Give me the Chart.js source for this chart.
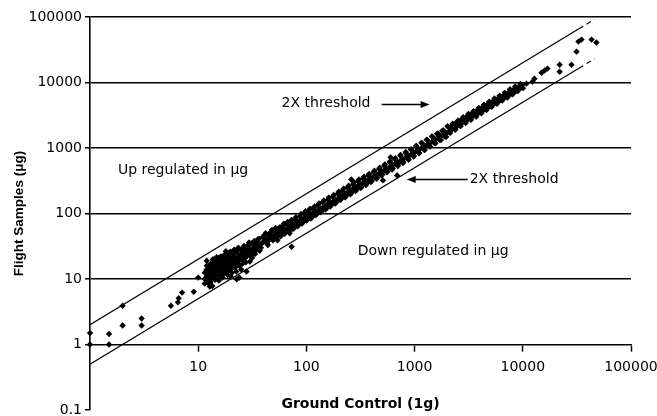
<!DOCTYPE html>
<html>
<head>
<meta charset="utf-8">
<script src="https://cdn.jsdelivr.net/npm/chart.js@4/dist/chart.umd.min.js"></script>
<style>
html,body{margin:0;padding:0;background:#fff;}
#c{display:block;}
</style>
</head>
<body>
<canvas id="c" width="657" height="416"></canvas>
<script>
// ---- data ----
const groundControl = [
1,1,1.5,1.5,2,2,3,3,5.6,6.5,
6.6,7.1,9.1,10,12.8,13.7,22.7,11.5,11.5,11.5,
12,12,12,12,12.5,12.5,12.5,12.5,13,13,
13,13,13.5,13.5,13.5,13.5,14,14,14,14,
14.5,14.5,14.5,14.5,15,15,15,15,15.5,15.5,
15.5,15.5,16,16,16,16,16.5,16.5,16.5,17,
17,17,17,17.5,17.5,17.5,18,18,18,18,
18.5,18.5,18.5,19,19,19,19.5,19.5,19.5,20,
20,20,20,21,21,21,22,22,22,22,
23,23,23,24,24,24,25,25,25,26,
26,26,27,27,27,28,28,28,29,29,
30,30,30,31,31,32,32,33,33,34,
34,35,35,36.5,36.5,38,38,39.5,39.5,24,
28,41,41,43,43,45,45,47,47,49,
49,51,51,53,53,55,55,58,58,60,
60,63,63,66,66,69,69,72,72,75,
75,79,79,83,83,87,87,91,91,96,
96,100,100,105,105,110,110,116,116,122,
122,128,128,135,135,142,142,150,150,158,
158,166,166,175,175,185,185,195,195,73,
205,205,215,215,228,228,240,240,255,255,
270,270,285,285,300,300,318,318,335,335,
355,355,375,375,395,395,420,420,445,445,
470,470,495,495,525,525,555,555,590,590,
620,620,660,660,700,700,740,740,780,780,
830,830,880,880,930,930,980,980,1040,1040,
1100,1100,1170,1170,1240,1240,1310,1310,1390,1390,
1470,1470,1560,1560,1650,1650,1750,1750,1850,1850,
1960,1960,510,690,260,600,2080,2080,2200,2200,
2330,2330,2470,2470,2620,2620,2780,2780,2950,2950,
3120,3120,3300,3300,3500,3500,3700,3700,3920,3920,
4150,4150,4400,4400,4650,4650,4930,4930,5220,5220,
5530,5530,5850,5850,6200,6200,6570,6570,6950,6950,
7350,7350,7800,7800,8250,8250,8750,8750,9250,9250,
9800,9800,10800,12300,12800,14900,15900,16900,21900,21900,
28200,31400,32700,34900,43200,47900,
42,44,46,48,50,52,54,57,59,62,
64,67,70,73,77,80,85,89,93,98,
102,108,113,119,125,131,138,145,153,161,
170,179,189,199,210,221,233,246,260,275,
290,306,323,341,360,380,402,425,450,476,
503,532,562,594,628,664,702,742,784,829,
876,926,979,1035,1094,1156,1222,1292,1366,1444,
1526,1613,1705,1802,1905,2014,2129,2250,2378,2514,
2657,2809,2969,3138,3317,3506,3706,3917,4140,4376,
4626,4890,5168,5463,5775,6104,6452,6820,7209,7620,
8054,8513,8999,9512,10054,
11.8,12.3,13.2,13.8,14.3,15.2,16.2,16.8,17.8,18.8,
19.8,20.5,21.5,22.5,23.5,25.5,26.5,27.5,29.5,31.5,
33.5,35.5,37,13.5,14.8,12,18,20,30,25
];
const flightSamples = [
1.5,1,1.45,1,3.9,1.95,2.5,1.95,3.9,4.4,
5.1,6.2,6.4,10.5,7.7,20,9.9,10,12.5,8.5,
14,11,9.2,16,12,15.5,10,13.5,11,17,
13,9,14,12,16,10.5,18,13,11,15,
12.5,16.5,10,19,14,17.5,11.5,13,21,15,
12,9.5,16,18.5,13.5,11,14.5,20,12.5,17,
22,15,11.8,13,19,16,21,15.5,18,12.5,
17,23,14,19.5,16,13.5,22,18,15,17,
24,20,14,19,16.5,22.5,25,18,20.5,15,
21,17.5,27,23,19.5,16,28,21,24,22,
19,26,30,24,21,25,27,22,33,24.5,
26,29,23,35,27,29,25,31,38,27,
33,36,30,41,32,34,30,44,36,10.5,
13,38,46,40,35,48,39,42,52,45,
39,55,47,46,42,58,50,52,45,63,
54,56,49,68,58,61,54,75,64,66,
58,82,70,72,64,90,77,80,70,99,
85,88,78,110,92,96,84,120,103,106,
95,135,112,118,104,150,124,130,115,162,
140,145,128,180,152,160,142,200,168,31,
180,160,222,190,198,176,250,212,222,196,
280,240,248,220,310,265,276,245,345,295,
308,272,385,330,342,302,430,370,385,340,
480,410,430,380,540,460,480,425,600,515,
540,470,670,575,600,530,760,640,670,590,
840,720,750,660,940,800,840,740,1050,900,
940,830,1180,1010,1060,930,1320,1130,1190,1050,
1480,1270,1340,1180,1660,1420,1500,1320,1860,1590,
1680,1480,320,380,330,720,2050,1780,1900,2150,
2300,2000,2150,2450,2600,2250,2450,2750,2900,2550,
2750,3050,3250,2900,3100,3400,3650,3200,3450,3800,
4050,3600,3850,4250,4500,4000,4350,4750,5050,4550,
4850,5300,5600,5000,5400,5900,6250,5600,6050,6500,
7000,6300,6700,7200,7800,7000,7500,8100,8600,8000,
8400,9100,9600,10300,11400,14100,15200,16300,18700,14600,
18700,29600,42100,45200,45200,40700,
50,33,44,56,41,60,39,62,48,70,
52,74,50,80,60,88,68,98,74,108,
80,118,88,128,98,142,108,158,120,175,
135,192,150,215,168,240,185,265,205,300,
230,330,255,365,285,400,315,450,352,500,
395,560,440,625,490,700,550,780,610,870,
680,960,760,1080,850,1200,950,1340,1060,1500,
1190,1650,1330,1830,1490,2150,1700,2350,1900,2600,
2150,2950,2400,3300,2700,3650,3000,4100,3400,4600,
3800,5100,4250,5700,4750,6300,5300,7000,5900,7900,
6600,8700,7400,9500,8200,
13,8.8,15,19.5,9.7,16,22,10.5,24,11.5,
26,12.5,28,13,30,17,32,18,36,21,
24,40,27,7.8,21.5,19,26.5,11,18.5,14
];
// 2X threshold lines (ground value, upper = 2x, lower = 0.5x)
const thresholdX = [1, 33000, 46000];
const upperThresholdY = [2, 66000, 92000];
const lowerThresholdY = [0.5, 16500, 23000];
// tick labels
const xTickValues = [10, 100, 1000, 10000, 100000];
const yTickValues = [0.1, 1, 10, 100, 1000, 10000, 100000];
// annotations (data coordinates)
const noteTexts = ['2X threshold', 'Up regulated in \u03bcg', '2X threshold', 'Down regulated in \u03bcg'];
const noteX = [59, 1.81, 3230, 298];
const noteY = [4730, 462, 336, 26.6];
const arrowFromX = [497, 3094];
const arrowToX = [1377, 845];
const arrowY = [4730, 336];

Chart.defaults.font.family = "'DejaVu Sans', sans-serif";
Chart.defaults.color = '#000';

const annotPlugin = {
  id: 'annot',
  afterDatasetsDraw(chart) {
    const ctx = chart.ctx, xs = chart.scales.x, ys = chart.scales.y;
    ctx.save();
    ctx.fillStyle = '#000';
    ctx.strokeStyle = '#000';
    ctx.font = "14px 'DejaVu Sans'";
    ctx.textAlign = 'left';
    ctx.textBaseline = 'middle';
    noteTexts.forEach((t, i) => {
      ctx.fillText(t, xs.getPixelForValue(noteX[i]), ys.getPixelForValue(noteY[i]));
    });
    ctx.lineWidth = 1.5;
    arrowFromX.forEach((fx, i) => {
      const x1 = xs.getPixelForValue(fx), x2 = xs.getPixelForValue(arrowToX[i]);
      const y = Math.round(ys.getPixelForValue(arrowY[i])) + 0.5;
      const dir = Math.sign(x2 - x1);
      ctx.beginPath();
      ctx.moveTo(x1, y);
      ctx.lineTo(x2 - dir * 6, y);
      ctx.stroke();
      ctx.beginPath();
      ctx.moveTo(x2, y);
      ctx.lineTo(x2 - dir * 9, y - 3.5);
      ctx.lineTo(x2 - dir * 9, y + 3.5);
      ctx.closePath();
      ctx.fill();
    });
    ctx.restore();
  }
};

new Chart(document.getElementById('c'), {
  type: 'scatter',
  data: {
    datasets: [
      {
        label: 'Genes',
        data: groundControl.map((g, i) => ({x: g, y: flightSamples[i]})),
        pointStyle: 'rectRot',
        pointRadius: 3.2,
        backgroundColor: '#000',
        borderWidth: 0,
        clip: 6,
        order: 0
      },
      {
        label: 'Upper 2X threshold',
        data: thresholdX.map((x, i) => ({x: x, y: upperThresholdY[i]})),
        showLine: true,
        pointRadius: 0,
        borderColor: '#000',
        borderWidth: 1.2,
        segment: { borderDash: c => c.p0DataIndex === 1 ? [5, 4] : undefined },
        order: 1
      },
      {
        label: 'Lower 2X threshold',
        data: thresholdX.map((x, i) => ({x: x, y: lowerThresholdY[i]})),
        showLine: true,
        pointRadius: 0,
        borderColor: '#000',
        borderWidth: 1.2,
        segment: { borderDash: c => c.p0DataIndex === 1 ? [5, 4] : undefined },
        order: 1
      }
    ]
  },
  options: {
    responsive: false,
    animation: false,
    devicePixelRatio: 1,
    layout: { padding: { top: 17, left: 0, right: 26, bottom: 0 } },
    plugins: { legend: { display: false }, tooltip: { enabled: false } },
    scales: {
      x: {
        type: 'logarithmic',
        min: 1, max: 100000,
        position: { y: 1 },
        afterBuildTicks: s => { s.ticks = xTickValues.map(v => ({value: v})); },
        afterFit: s => { s.height = 0; s.paddingLeft = 0; s.paddingRight = 0; },
        grid: { drawOnChartArea: false, drawTicks: true, tickLength: 6, tickColor: '#000', tickWidth: 1.5 },
        border: { display: true, color: '#000', width: 1.6 },
        ticks: { autoSkip: false, maxRotation: 0, padding: 8, font: { size: 14 }, callback: v => String(v) },
        title: { display: false }
      },
      x2: {
        type: 'linear',
        position: 'bottom',
        display: true,
        grid: { display: false },
        border: { display: false },
        ticks: { display: false },
        afterFit: s => { s.height = 6; s.paddingLeft = 0; s.paddingRight = 0; },
        title: { display: true, text: 'Ground Control (1g)', font: { size: 14, weight: 'bold' }, padding: { top: 0, bottom: 3 } }
      },
      y: {
        type: 'logarithmic',
        min: 0.1, max: 100000,
        position: 'left',
        afterBuildTicks: s => { s.ticks = yTickValues.map(v => ({value: v})); },
        afterFit: s => { s.width = 90; s.paddingTop = 0; s.paddingBottom = 0; },
        grid: {
          color: c => (c.tick && c.tick.value <= 1) ? 'rgba(0,0,0,0)' : '#000',
          lineWidth: 1.5,
          drawTicks: true, tickLength: 5, tickColor: '#000', tickWidth: 1.5
        },
        border: { display: true, color: '#000', width: 1.6 },
        ticks: { autoSkip: false, padding: 3, font: { size: 14 }, callback: v => String(v) },
        title: { display: true, text: 'Flight Samples (\u03bcg)', font: { family: "'Liberation Sans'", size: 13.5, weight: 'bold' }, padding: { top: 11, bottom: 0 } }
      }
    }
  },
  plugins: [annotPlugin]
});
</script>
</body>
</html>
